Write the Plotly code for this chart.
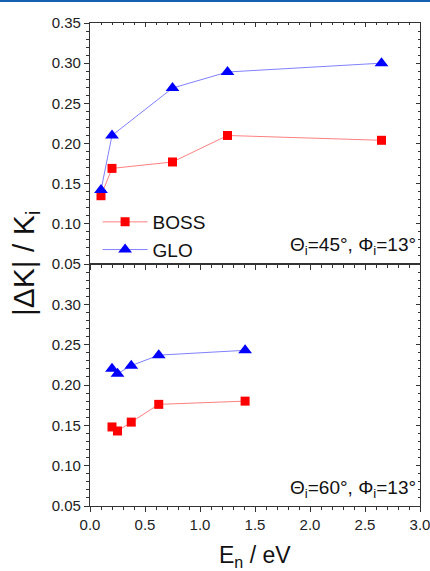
import plotly.graph_objects as go

# ---- data ----
x45 = [0.1, 0.2, 0.75, 1.25, 2.65]
boss45 = [0.135, 0.169, 0.177, 0.210, 0.204]
glo45 = [0.142, 0.210, 0.269, 0.289, 0.300]

x60 = [0.2, 0.25, 0.375, 0.625, 1.41]
boss60 = [0.148, 0.143, 0.154, 0.176, 0.180]
glo60 = [0.220, 0.214, 0.224, 0.237, 0.243]

ytick_vals = [0.05, 0.10, 0.15, 0.20, 0.25, 0.30, 0.35]
ytick_top = ["0.05", "0.10", "0.15", "0.20", "0.25", "0.30", "0.35"]
ytick_bot = ["0.05", "0.10", "0.15", "0.20", "0.25", "0.30", ""]
xtick_vals = [0.0, 0.5, 1.0, 1.5, 2.0, 2.5, 3.0]
xtick_text = ["0.0", "0.5", "1.0", "1.5", "2.0", "2.5", "3.0"]

RED = "#ff0000"
RED_L = "#ff8080"
BLUE = "#0000ff"
BLUE_L = "#8080ff"
AX = "#333333"
FONT = "Liberation Sans, Arial, sans-serif"

fig = go.Figure()

fig.add_trace(go.Scatter(x=x45, y=boss45, mode="lines+markers", name="BOSS",
                         line=dict(color=RED_L, width=1),
                         marker=dict(symbol="square", size=9, color=RED),
                         xaxis="x", yaxis="y", legendgroup="b"))
fig.add_trace(go.Scatter(x=x45, y=glo45, mode="lines+markers", name="GLO",
                         line=dict(color=BLUE_L, width=1),
                         marker=dict(symbol="triangle-up", size=12, color=BLUE),
                         xaxis="x", yaxis="y", legendgroup="g"))
fig.add_trace(go.Scatter(x=x60, y=boss60, mode="lines+markers", name="BOSS",
                         line=dict(color=RED_L, width=1),
                         marker=dict(symbol="square", size=9, color=RED),
                         xaxis="x2", yaxis="y2", showlegend=False, legendgroup="b"))
fig.add_trace(go.Scatter(x=x60, y=glo60, mode="lines+markers", name="GLO",
                         line=dict(color=BLUE_L, width=1),
                         marker=dict(symbol="triangle-up", size=12, color=BLUE),
                         xaxis="x2", yaxis="y2", showlegend=False, legendgroup="g"))
# empty traces to activate mirror axes (top/right, inward ticks)
fig.add_trace(go.Scatter(x=[], y=[], xaxis="x3", yaxis="y3", showlegend=False, hoverinfo="skip"))
fig.add_trace(go.Scatter(x=[], y=[], xaxis="x4", yaxis="y4", showlegend=False, hoverinfo="skip"))

split = 242 / 483

def xax(**kw):
    d = dict(range=[0, 3], tickvals=xtick_vals, ticktext=xtick_text, automargin=False,
             ticklabeloverflow="allow",
             showline=True, linecolor=AX, linewidth=1.3, showgrid=False, zeroline=False,
             ticks="outside", ticklen=5, tickwidth=1.2, tickcolor=AX,
             minor=dict(dtick=0.1, tick0=0, ticks="outside", ticklen=3, tickwidth=1, tickcolor=AX),
             tickfont=dict(family=FONT, size=15, color="#222"))
    d.update(kw)
    return d

def yax(**kw):
    d = dict(range=[0.05, 0.35], tickvals=ytick_vals, automargin=False,
             ticklabeloverflow="allow",
             showline=True, linecolor=AX, linewidth=1.3, showgrid=False, zeroline=False,
             ticks="outside", ticklen=5, tickwidth=1.2, tickcolor=AX,
             minor=dict(dtick=0.01, tick0=0.05, ticks="outside", ticklen=3, tickwidth=1, tickcolor=AX),
             tickfont=dict(family=FONT, size=15, color="#222"))
    d.update(kw)
    return d

inside_minor_x = dict(dtick=0.1, tick0=0, ticks="inside", ticklen=2, tickwidth=1, tickcolor=AX)
inside_minor_y = dict(dtick=0.01, tick0=0.05, ticks="inside", ticklen=2, tickwidth=1, tickcolor=AX)

fig.update_layout(
    width=430, height=571,
    margin=dict(l=90, r=10, t=23, b=65, autoexpand=False),
    paper_bgcolor="white", plot_bgcolor="white",
    font=dict(family=FONT, color="#222"),
    xaxis=xax(domain=[0, 1], anchor="y", showticklabels=False),
    yaxis=yax(domain=[split, 1], anchor="x", ticktext=ytick_top),
    xaxis2=xax(domain=[0, 1], anchor="y2", showticklabels=True),
    yaxis2=yax(domain=[0, split], anchor="x2", ticktext=ytick_bot),
    xaxis3=xax(overlaying="x", anchor="y", side="top", ticks="inside", ticklen=4,
               minor=inside_minor_x, showticklabels=False),
    yaxis3=yax(overlaying="y", anchor="x", side="right", ticks="inside", ticklen=4,
               minor=inside_minor_y, showticklabels=False, ticktext=ytick_top),
    xaxis4=xax(overlaying="x2", anchor="y2", side="top", ticks="inside", ticklen=4,
               minor=inside_minor_x, showticklabels=False),
    yaxis4=yax(overlaying="y2", anchor="x2", side="right", ticks="inside", ticklen=4,
               minor=inside_minor_y, showticklabels=False, ticktext=ytick_bot),
    legend=dict(x=0.023, y=(506 - 203) / 483, xanchor="left", yanchor="top",
                bgcolor="rgba(0,0,0,0)", font=dict(family=FONT, size=19, color="#111"),
                itemwidth=45, tracegroupgap=0),
    showlegend=True,
)

fig.add_annotation(text="Θ<sub>i</sub>=45°, Φ<sub>i</sub>=13°", xref="paper", yref="paper",
                   x=0.995, y=(506 - 260) / 483, xanchor="right", yanchor="bottom",
                   showarrow=False, font=dict(family=FONT, size=19, color="#111"))
fig.add_annotation(text="Θ<sub>i</sub>=60°, Φ<sub>i</sub>=13°", xref="paper", yref="paper",
                   x=0.995, y=(506 - 503) / 483, xanchor="right", yanchor="bottom",
                   showarrow=False, font=dict(family=FONT, size=19, color="#111"))
fig.add_annotation(text="|ΔK| / K<sub>i</sub>", xref="paper", yref="paper",
                   x=(25 - 90) / 330, y=split, xanchor="center", yanchor="middle",
                   textangle=-90, showarrow=False, font=dict(family=FONT, size=30, color="#111"))
fig.add_annotation(text="E<sub>n</sub> / eV", xref="paper", yref="paper",
                   x=0.5, y=-(556 - 506) / 483, xanchor="center", yanchor="middle",
                   showarrow=False, font=dict(family=FONT, size=23, color="#111"))

# thin blue rule at the very top of the figure
fig.add_shape(type="line", xref="paper", yref="paper",
              x0=-90 / 330, x1=1 + 10 / 330, y0=1 + 22 / 483, y1=1 + 22 / 483,
              line=dict(color="#1560b0", width=2))

fig.write_html("out.html")
